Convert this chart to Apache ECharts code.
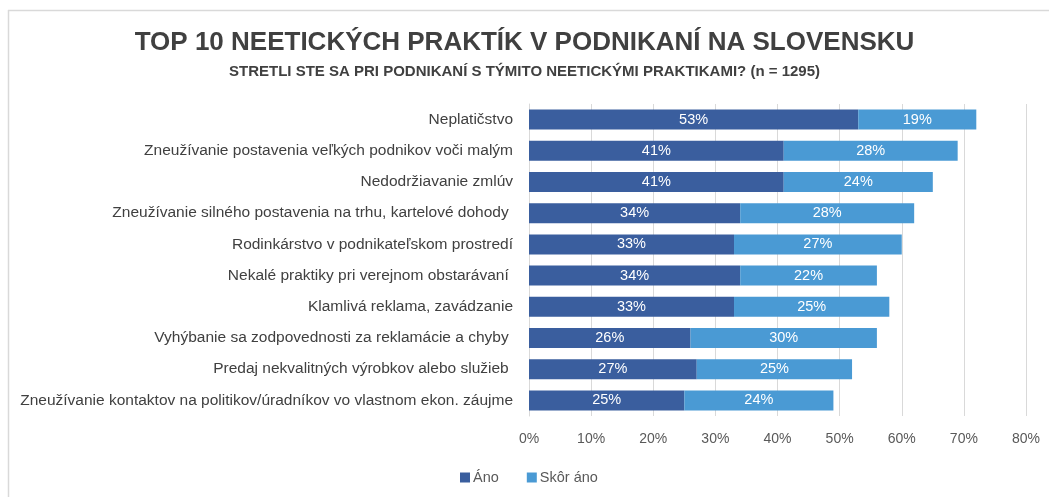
<!DOCTYPE html>
<html><head><meta charset="utf-8">
<script src="https://cdn.jsdelivr.net/npm/echarts@6/dist/echarts.min.js"></script>
<style>html,body{margin:0;padding:0;background:#fff}#c{width:1049px;height:497px}</style>
</head><body><div id="c"></div>
<script>
const categories = [
  "Neplatičstvo",
  "Zneužívanie postavenia veľkých podnikov voči malým",
  "Nedodržiavanie zmlúv",
  "Zneužívanie silného postavenia na trhu, kartelové dohody ",
  "Rodinkárstvo v podnikateľskom prostredí",
  "Nekalé praktiky pri verejnom obstarávaní ",
  "Klamlivá reklama, zavádzanie",
  "Vyhýbanie sa zodpovednosti za reklamácie a chyby ",
  "Predaj nekvalitných výrobkov alebo služieb ",
  "Zneužívanie kontaktov na politikov/úradníkov vo vlastnom ekon. záujme"
];
const ano = [53, 41, 41, 34, 33, 34, 33, 26, 27, 25];
const skorAno = [19, 28, 24, 28, 27, 22, 25, 30, 25, 24];
const seriesNames = ["Áno", "Skôr áno"];
const titleText = "TOP 10 NEETICKÝCH PRAKTÍK V PODNIKANÍ NA SLOVENSKU";
const subtitleText = "STRETLI STE SA PRI PODNIKANÍ S TÝMITO NEETICKÝMI PRAKTIKAMI? (n = 1295)";

const chart = echarts.init(document.getElementById('c'), null, {renderer: 'canvas'});
const font = 'Liberation Sans, Arial, sans-serif';
const lbl = {show: true, position: 'inside', color: '#fff', fontSize: 14.5, fontFamily: font, formatter: p => p.value + '%'};
chart.setOption({
  animation: false,
  backgroundColor: '#fff',
  textStyle: {fontFamily: font},
  title: {
    text: titleText, subtext: subtitleText, left: 'center', top: 25, itemGap: 8,
    textStyle: {fontSize: 26, fontWeight: 'bold', color: '#404040', fontFamily: font},
    subtextStyle: {fontSize: 15, fontWeight: 'bold', color: '#404040', fontFamily: font}
  },
  graphic: [
    {type: 'line', shape: {x1: 8.5, y1: 10, x2: 8.5, y2: 497}, style: {stroke: '#d9d9d9', lineWidth: 1.5}},
    {type: 'line', shape: {x1: 8, y1: 10.5, x2: 1049, y2: 10.5}, style: {stroke: '#d9d9d9', lineWidth: 1.5}}
  ],
  legend: {
    bottom: 12, left: 460, padding: 0, itemWidth: 10, itemHeight: 10, itemGap: 28,
    icon: 'rect', textStyle: {fontSize: 14.5, color: '#595959', fontFamily: font, padding: [0, 0, 0, -2]}
  },
  grid: {left: 529, right: 23, top: 104, bottom: 81, containLabel: false},
  xAxis: {
    type: 'value', min: 0, max: 80, interval: 10,
    axisLabel: {formatter: '{value}%', color: '#595959', fontSize: 14, margin: 16},
    splitLine: {lineStyle: {color: '#d9d9d9'}},
    axisLine: {show: false}, axisTick: {show: false}
  },
  yAxis: {
    type: 'category', data: categories, inverse: true,
    axisLine: {show: true, lineStyle: {color: '#d9d9d9'}}, axisTick: {show: false},
    axisLabel: {color: '#404040', fontSize: 15.5, margin: 16}
  },
  series: [
    {name: seriesNames[0], type: 'bar', stack: 's', data: ano, barWidth: '64%', itemStyle: {color: '#3A5E9E'}, label: lbl},
    {name: seriesNames[1], type: 'bar', stack: 's', data: skorAno, barWidth: '64%', itemStyle: {color: '#4A9AD4'}, label: lbl}
  ]
});
</script></body></html>
